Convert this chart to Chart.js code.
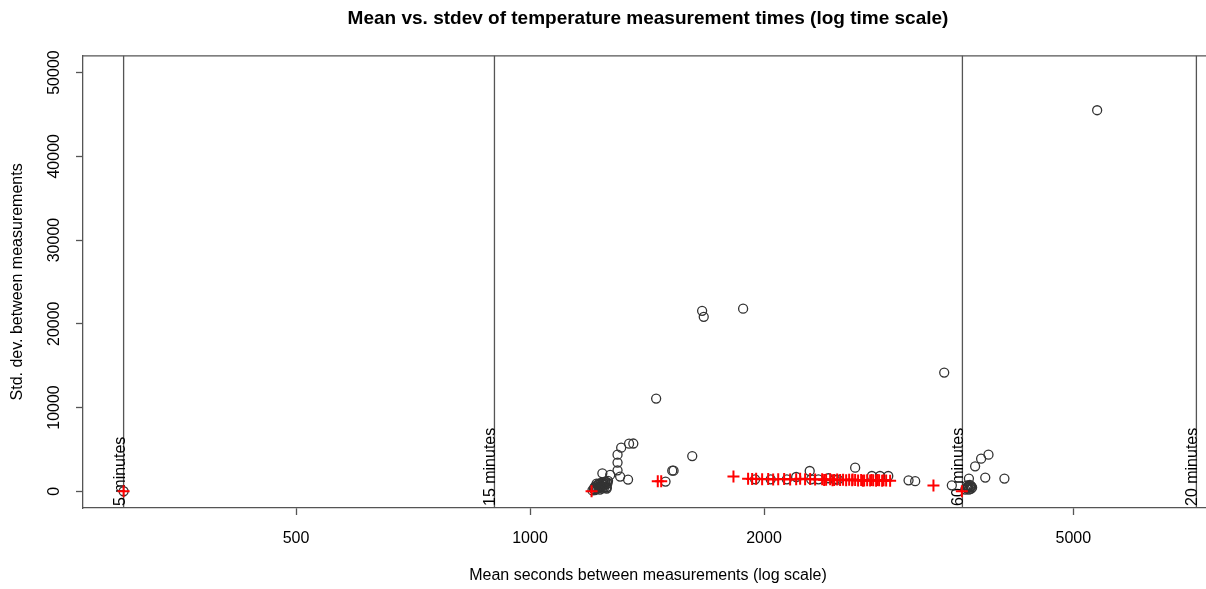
<!DOCTYPE html>
<html>
<head>
<meta charset="utf-8">
<script src="https://cdn.jsdelivr.net/npm/chart.js@4.4.1/dist/chart.umd.min.js"></script>
<style>
  html, body { margin: 0; padding: 0; background: #fff; overflow: hidden; }
</style>
</head>
<body>
<canvas id="myChart" width="1213" height="589"></canvas>
<script>
// mean seconds / std dev for every station (open circles)
const circleSec = [300, 5366, 1665, 1673, 1880, 3411, 1453, 1617, 1341, 1358,
  1310, 1296, 1296, 1296, 1306, 1337, 1239, 1268, 1524, 1530,
  1494, 1255, 1255,
  1203, 1208, 1212, 1216, 1220, 1224, 1228, 1232, 1236, 1240, 1244, 1248,
  1252, 1256, 1260, 1214, 1222, 1230, 1238, 1246, 1254, 1226, 1234, 1242,
  1210, 1218, 1250, 1258,
  1948, 2040, 2140, 2200, 2290, 2300, 2350, 2420, 2467, 2490, 2620, 2753,
  2820, 2890, 3069, 3130, 3489,
  3889, 3805, 3738, 3852, 4077, 3670,
  3630, 3645, 3655, 3665, 3680, 3695, 3705, 3690, 3670, 3650, 3685, 3660];
const circleSd = [0, 45500, 21550, 20830, 21800, 14170, 11070, 4200, 5680, 5700,
  5200, 4370, 3420, 2500, 1750, 1390, 2140, 1950, 2460, 2460,
  1150, 510, 320,
  100, 250, 150, 400, 300, 550, 450, 700, 600, 850, 750, 950,
  800, 1100, 1250, 600, 750, 200, 350, 500, 450, 900, 1000, 1050,
  450, 900, 1150, 950,
  1430, 1430, 1430, 1700, 2420, 1430, 1430, 1550, 1390, 1400, 2820, 1820,
  1820, 1820, 1300, 1200, 710,
  4370, 3890, 2980, 1630, 1510, 1510,
  200, 350, 500, 650, 750, 600, 450, 300, 200, 700, 500, 400];

// stations flagged in red (crosses)
const crossSec = [300, 1200, 1460, 1475, 1827,
  1908, 1931, 1954, 1989, 2025, 2055, 2086, 2123, 2161, 2200, 2226, 2259,
  2293, 2327, 2376, 2390, 2404, 2433, 2450, 2462, 2484, 2506, 2528, 2551,
  2574, 2597, 2600, 2620, 2643, 2667, 2680, 2691, 2715, 2739, 2750, 2764,
  2788, 2800, 2813, 2838, 2850, 2872, 2906,
  3304, 3594];
const crossSd = [0, 0, 1200, 1200, 1750,
  1500, 1450, 1480, 1420, 1460, 1400, 1430, 1470, 1410, 1440, 1480, 1420,
  1460, 1400, 1440, 1350, 1380, 1420, 1300, 1350, 1400, 1330, 1380, 1320,
  1360, 1300, 1400, 1350, 1290, 1330, 1250, 1280, 1320, 1270, 1350, 1310,
  1260, 1330, 1300, 1250, 1300, 1280, 1240,
  700, 0];

const xTicks = [500, 1000, 2000, 5000];
const yTicks = [0, 10000, 20000, 30000, 40000, 50000];

const refSeconds = [300, 900, 3600, 7200];
const refLabels = ['5 minutes', '15 minutes', '60 minutes', '20 minutes'];

const lineColor = '#555';
const fontFamily = '"Liberation Sans", Arial, Helvetica, sans-serif';
Chart.defaults.font.family = fontFamily;
Chart.defaults.color = '#000';

// reference lines + top edge of the box
const refLines = {
  id: 'refLines',
  beforeDatasetsDraw(chart) {
    const ctx = chart.ctx;
    const area = chart.chartArea;
    const xs = chart.scales.x;
    ctx.save();
    ctx.strokeStyle = lineColor;
    ctx.lineWidth = 1.3;
    ctx.beginPath();
    ctx.moveTo(area.left, area.top);
    ctx.lineTo(area.right, area.top);
    ctx.stroke();
    ctx.font = '16px ' + fontFamily;
    ctx.fillStyle = '#000';
    refSeconds.forEach((s, i) => {
      const px = xs.getPixelForValue(s);
      ctx.beginPath();
      ctx.moveTo(px, area.top);
      ctx.lineTo(px, area.bottom);
      ctx.stroke();
      ctx.save();
      ctx.translate(px + 1, area.bottom - 2);
      ctx.rotate(-Math.PI / 2);
      ctx.textAlign = 'left';
      ctx.textBaseline = 'alphabetic';
      ctx.fillText(refLabels[i], 0, 0);
      ctx.restore();
    });
    ctx.restore();
  }
};

const ctx = document.getElementById('myChart');
const myChart = new Chart(ctx, {
  type: 'scatter',
  data: {
    datasets: [{
      label: 'flagged',
      data: crossSec.map((s, i) => ({ x: s, y: crossSd[i] })),
      pointStyle: 'cross',
      pointRadius: 6,
      borderColor: '#ff0000',
      borderWidth: 2
    }, {
      label: 'stations',
      data: circleSec.map((s, i) => ({ x: s, y: circleSd[i] })),
      pointStyle: 'circle',
      pointRadius: 4.5,
      borderColor: '#333',
      backgroundColor: 'rgba(0,0,0,0)',
      borderWidth: 1.3
    }]
  },
  options: {
    responsive: false,
    animation: false,
    events: [],
    layout: { padding: 0, autoPadding: false },
    scales: {
      x: {
        type: 'logarithmic',
        min: 266,
        max: 7563,
        afterBuildTicks: (s) => { s.ticks = xTicks.map(v => ({ value: v })); },
        afterFit: (s) => { s.height = 81; s.paddingLeft = 0; s.paddingRight = 0; },
        grid: { drawOnChartArea: false, tickLength: 7, tickColor: lineColor, tickWidth: 1.3 },
        border: { color: lineColor, width: 1.3 },
        ticks: { autoSkip: false, maxRotation: 0, padding: 14, font: { size: 16 }, callback: v => String(v) },
        title: { display: true, text: 'Mean seconds between measurements (log scale)', font: { size: 16 }, padding: { bottom: 4 } }
      },
      y: {
        type: 'linear',
        min: -2000,
        max: 52000,
        afterBuildTicks: (s) => { s.ticks = yTicks.map(v => ({ value: v })); },
        afterFit: (s) => { s.width = 83; s.paddingTop = 0; s.paddingBottom = 0; },
        grid: { drawOnChartArea: false, tickLength: 7, tickColor: lineColor, tickWidth: 1.3 },
        border: { color: lineColor, width: 1.3 },
        ticks: { autoSkip: false, minRotation: 90, maxRotation: 90, crossAlign: 'center', padding: -1, font: { size: 16 }, callback: v => String(v) },
        title: { display: true, text: 'Std. dev. between measurements', font: { size: 16 }, padding: { top: 8 } }
      }
    },
    plugins: {
      legend: { display: false },
      tooltip: { enabled: false },
      title: {
        display: true,
        fullSize: false,
        text: 'Mean vs. stdev of temperature measurement times (log time scale)',
        font: { size: 19, weight: 'bold' },
        padding: { top: 7, bottom: 26 }
      }
    }
  },
  plugins: [refLines]
});
</script>
</body>
</html>
